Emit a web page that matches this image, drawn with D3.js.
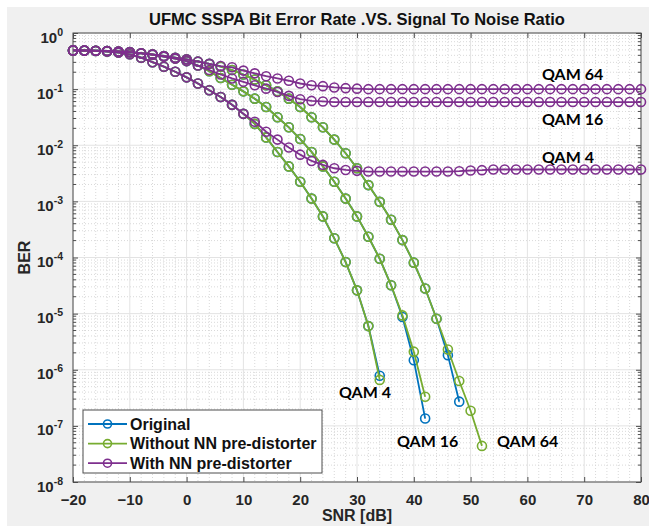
<!DOCTYPE html>
<html><head><meta charset="utf-8">
<script src="https://cdn.jsdelivr.net/npm/d3@7"></script>
<style>body{margin:0;background:#fff}svg{display:block}</style>
</head><body><svg id="c" width="649" height="526"></svg>
<script>
// ---------------- data ----------------
const snr = [-20,-18,-16,-14,-12,-10,-8,-6,-4,-2,0,2,4,6,8,10,12,14,16,18,20,22,24,26,28,30,32,34,36,38,40,42,44,46,48,50,52,54,56,58,60,62,64,66,68,70,72,74,76,78,80];

const origQam4 = [0.490,0.484,0.479,0.468,0.447,0.417,0.363,0.302,0.251,0.204,0.162,0.126,0.0955,0.0724,0.0525,0.0363,0.0240,0.0138,7.6e-3,4.2e-3,2.24e-3,1.12e-3,5.4e-4,2.2e-4,8.3e-5,2.6e-5,6.0e-6,7.8e-7];
const origQam16 = [0.490,0.488,0.484,0.479,0.468,0.455,0.433,0.410,0.380,0.350,0.316,0.263,0.209,0.158,0.120,0.0912,0.0676,0.0479,0.0316,0.0209,0.0129,7.6e-3,4.2e-3,2.24e-3,1.12e-3,5.4e-4,2.34e-4,9.5e-5,3.2e-5,8.7e-6,1.48e-6,1.35e-7];
const origQam64 = [0.490,0.490,0.484,0.479,0.468,0.457,0.437,0.417,0.389,0.363,0.339,0.309,0.282,0.251,0.219,0.182,0.148,0.117,0.0912,0.0676,0.0479,0.0316,0.0209,0.0126,7.2e-3,3.9e-3,1.95e-3,9.8e-4,4.7e-4,2.04e-4,8.1e-5,2.8e-5,8.1e-6,1.82e-6,2.7e-7];

const noNNQam4 = [0.490,0.484,0.479,0.468,0.447,0.417,0.363,0.302,0.251,0.204,0.162,0.126,0.0955,0.0724,0.0525,0.0363,0.0240,0.0138,7.6e-3,4.2e-3,2.24e-3,1.12e-3,5.4e-4,2.2e-4,8.3e-5,2.6e-5,6.0e-6,6.6e-7];
const noNNQam16 = [0.490,0.488,0.484,0.479,0.468,0.455,0.433,0.410,0.380,0.350,0.316,0.263,0.209,0.158,0.120,0.0912,0.0676,0.0479,0.0316,0.0209,0.0129,7.6e-3,4.2e-3,2.24e-3,1.12e-3,5.4e-4,2.34e-4,9.5e-5,3.2e-5,9.3e-6,2.1e-6,3.3e-7];
const noNNQam64 = [0.490,0.490,0.484,0.479,0.468,0.457,0.437,0.417,0.389,0.363,0.339,0.309,0.282,0.251,0.219,0.182,0.148,0.117,0.0912,0.0676,0.0479,0.0316,0.0209,0.0126,7.2e-3,3.9e-3,1.95e-3,9.8e-4,4.7e-4,2.04e-4,8.1e-5,2.8e-5,8.1e-6,2.3e-6,6.3e-7,1.86e-7,4.4e-8];

const nnQam4 = [0.490,0.484,0.479,0.468,0.447,0.417,0.363,0.302,0.251,0.204,0.162,0.126,0.0955,0.0724,0.0525,0.0363,0.0263,0.0174,0.0126,9.1e-3,6.8e-3,5.25e-3,4.47e-3,3.89e-3,3.63e-3,3.5e-3,3.4e-3,3.4e-3,3.4e-3,3.4e-3,3.4e-3,3.4e-3,3.4e-3,3.4e-3,3.45e-3,3.55e-3,3.6e-3,3.7e-3,3.7e-3,3.7e-3,3.7e-3,3.7e-3,3.7e-3,3.7e-3,3.7e-3,3.7e-3,3.7e-3,3.7e-3,3.7e-3,3.7e-3,3.7e-3];
const nnQam16 = [0.490,0.488,0.484,0.479,0.468,0.455,0.433,0.410,0.380,0.350,0.316,0.263,0.219,0.182,0.155,0.135,0.117,0.102,0.0891,0.0759,0.0661,0.0617,0.0603,0.0589,0.0589,0.0589,0.0589,0.0589,0.0589,0.0589,0.0589,0.0589,0.0589,0.0589,0.0589,0.0589,0.0589,0.0589,0.0589,0.0589,0.0589,0.0589,0.0589,0.0589,0.0589,0.0589,0.0589,0.0589,0.0589,0.0589,0.0589];
const nnQam64 = [0.490,0.490,0.484,0.479,0.468,0.457,0.437,0.417,0.389,0.363,0.339,0.309,0.282,0.258,0.245,0.214,0.191,0.170,0.155,0.141,0.126,0.117,0.113,0.107,0.104,0.102,0.100,0.100,0.100,0.100,0.100,0.100,0.100,0.100,0.100,0.100,0.100,0.100,0.100,0.100,0.100,0.100,0.100,0.100,0.100,0.100,0.100,0.100,0.100,0.100,0.100];

const legendLabels = ["Original", "Without NN pre-distorter", "With NN pre-distorter"];
const xTicks = [-20,-10,0,10,20,30,40,50,60,70,80];
const yExponents = [0,-1,-2,-3,-4,-5,-6,-7,-8];
const titleText = "UFMC SSPA Bit Error Rate .VS. Signal To Noise Ratio";
const xLabel = "SNR [dB]";
const yLabel = "BER";
const qamLabels = ["QAM 64", "QAM 16", "QAM 4", "QAM 4", "QAM 16", "QAM 64"];

// ---------------- layout ----------------
const W = 649, H = 526;
const M = {l:73, r:641, t:33, b:482};
const colors = ["#0072BD", "#77AC30", "#7E2F8E"];
const tickFont = "Liberation Sans, Arial, sans-serif";

const svg = d3.select("#c");
svg.append("rect").attr("x",0).attr("y",0).attr("width",W).attr("height",H).attr("fill","#ffffff");
svg.append("rect").attr("x",7).attr("y",7).attr("width",W-7).attr("height",H-7).attr("fill","#f0f0f0");

const x = d3.scaleLinear().domain([-20,80]).range([M.l, M.r]);
const y = d3.scaleLog().domain([1e-8,1]).range([M.b, M.t]);

svg.append("rect").attr("x",M.l).attr("y",M.t).attr("width",M.r-M.l).attr("height",M.b-M.t).attr("fill","#fff");

// minor grid
const xMinor = d3.range(-20,81,2).filter(v => v % 10 !== 0);
const yMinor = [];
for (let e=-8; e<0; e++) for (let k=2; k<=9; k++) yMinor.push(k*Math.pow(10,e));

const grid = svg.append("g");
grid.selectAll(".xm").data(xMinor).join("line")
  .attr("x1",d=>x(d)).attr("x2",d=>x(d)).attr("y1",M.t).attr("y2",M.b)
  .attr("stroke","#d9d9d9").attr("stroke-width",1).attr("stroke-dasharray","1,2");
grid.selectAll(".ym").data(yMinor).join("line")
  .attr("x1",M.l).attr("x2",M.r).attr("y1",d=>y(d)).attr("y2",d=>y(d))
  .attr("stroke","#d9d9d9").attr("stroke-width",1).attr("stroke-dasharray","1,2");
// major grid
grid.selectAll(".xM").data(xTicks).join("line")
  .attr("x1",d=>x(d)).attr("x2",d=>x(d)).attr("y1",M.t).attr("y2",M.b)
  .attr("stroke","#e3e3e3").attr("stroke-width",1);
grid.selectAll(".yM").data(yExponents).join("line")
  .attr("x1",M.l).attr("x2",M.r).attr("y1",d=>y(Math.pow(10,d))).attr("y2",d=>y(Math.pow(10,d)))
  .attr("stroke","#e3e3e3").attr("stroke-width",1);

// axes
const axCol = "#4d4d4d";
function styleAxis(g){ g.select(".domain").remove(); g.selectAll("line").attr("stroke",axCol); }
const xB = svg.append("g").attr("transform",`translate(0,${M.b})`)
  .call(d3.axisBottom(x).tickValues(xTicks).tickSizeInner(-5).tickSizeOuter(0).tickFormat(d3.format("d")));
styleAxis(xB);
xB.selectAll("text").attr("y",23).attr("dy",0).attr("fill","#262626")
  .style("font-family",tickFont).style("font-size","15px").style("font-weight","bold");
const xT = svg.append("g").attr("transform",`translate(0,${M.t})`)
  .call(d3.axisTop(x).tickValues(xTicks).tickSizeInner(-5).tickSizeOuter(0).tickFormat(""));
styleAxis(xT);

const yVals = yExponents.map(e=>Math.pow(10,e));
const yL = svg.append("g").attr("transform",`translate(${M.l},0)`)
  .call(d3.axisLeft(y).tickValues(yVals).tickSizeInner(-5).tickSizeOuter(0).tickFormat(""));
styleAxis(yL);
yL.selectAll(".tick").each(function(d){
  const t = d3.select(this).append("text").attr("x",-10).attr("y",9).attr("text-anchor","end")
    .attr("fill","#262626").style("font-family",tickFont).style("font-weight","bold").style("font-size","15px");
  t.append("tspan").text("10");
  t.append("tspan").attr("dy",-7).style("font-size","10.5px").text(String(Math.round(Math.log10(d))));
});
const yR = svg.append("g").attr("transform",`translate(${M.r},0)`)
  .call(d3.axisRight(y).tickValues(yVals).tickSizeInner(-5).tickSizeOuter(0).tickFormat(""));
styleAxis(yR);
// minor ticks on y
[ [M.l, 3], [M.r, -3] ].forEach(([px, len]) => {
  svg.append("g").selectAll("line").data(yMinor).join("line")
    .attr("x1",px).attr("x2",px+len).attr("y1",d=>y(d)).attr("y2",d=>y(d)).attr("stroke",axCol);
});
// box
svg.append("rect").attr("x",M.l).attr("y",M.t).attr("width",M.r-M.l).attr("height",M.b-M.t)
  .attr("fill","none").attr("stroke",axCol).attr("stroke-width",1);

// ---------------- series ----------------
const series = [
  {c:0, v:origQam4}, {c:0, v:origQam16}, {c:0, v:origQam64},
  {c:1, v:noNNQam4}, {c:1, v:noNNQam16}, {c:1, v:noNNQam64},
  {c:2, v:nnQam4}, {c:2, v:nnQam16}, {c:2, v:nnQam64}
];
const line = d3.line().x(d=>x(d[0])).y(d=>y(d[1]));
series.forEach(s => {
  const pts = s.v.map((v,i)=>[snr[i], v]);
  const g = svg.append("g");
  g.append("path").datum(pts).attr("d",line).attr("fill","none")
    .attr("stroke",colors[s.c]).attr("stroke-width",1.8);
  g.selectAll("circle").data(pts).join("circle")
    .attr("cx",d=>x(d[0])).attr("cy",d=>y(d[1])).attr("r",4.5)
    .attr("fill","none").attr("stroke",colors[s.c]).attr("stroke-width",1.6);
});

// ---------------- labels ----------------
svg.append("text").attr("x",(M.l+M.r)/2).attr("y",25).attr("text-anchor","middle")
  .attr("fill","#111").style("font-family",tickFont).style("font-weight","bold").style("font-size","16.5px")
  .text(titleText);
svg.append("text").attr("x",(M.l+M.r)/2).attr("y",521).attr("text-anchor","middle")
  .attr("fill","#262626").style("font-family",tickFont).style("font-weight","bold").style("font-size","16px")
  .text(xLabel);
svg.append("text").attr("transform",`translate(30,${(M.t+M.b)/2}) rotate(-90)`).attr("text-anchor","middle")
  .attr("fill","#262626").style("font-family",tickFont).style("font-weight","bold").style("font-size","16px")
  .text(yLabel);

const qFont = "Lato, 'Open Sans', sans-serif";
const qamPos = [[542,80],[542,125],[542,163],[339,398],[397,447],[497,447]];
svg.selectAll(".qam").data(qamLabels).join("text")
  .attr("x",(d,i)=>qamPos[i][0]).attr("y",(d,i)=>qamPos[i][1]).attr("fill","#000")
  .style("font-family",qFont).style("font-weight","bold").style("font-size","16px")
  .text(d=>d);

// legend
const lg = svg.append("g");
lg.append("rect").attr("x",83).attr("y",410).attr("width",239).attr("height",63)
  .attr("fill","#fff").attr("stroke",axCol).attr("stroke-width",1);
legendLabels.forEach((lab,i)=>{
  const cy = 424 + i*19.6;
  lg.append("line").attr("x1",88).attr("x2",127).attr("y1",cy).attr("y2",cy)
    .attr("stroke",colors[i]).attr("stroke-width",1.8);
  lg.append("circle").attr("cx",107.5).attr("cy",cy).attr("r",4).attr("fill","none")
    .attr("stroke",colors[i]).attr("stroke-width",1.6);
  lg.append("text").attr("x",130).attr("y",cy+5.5).attr("fill","#111")
    .style("font-family",tickFont).style("font-weight","bold").style("font-size","16px").text(lab);
});
</script></body></html>
